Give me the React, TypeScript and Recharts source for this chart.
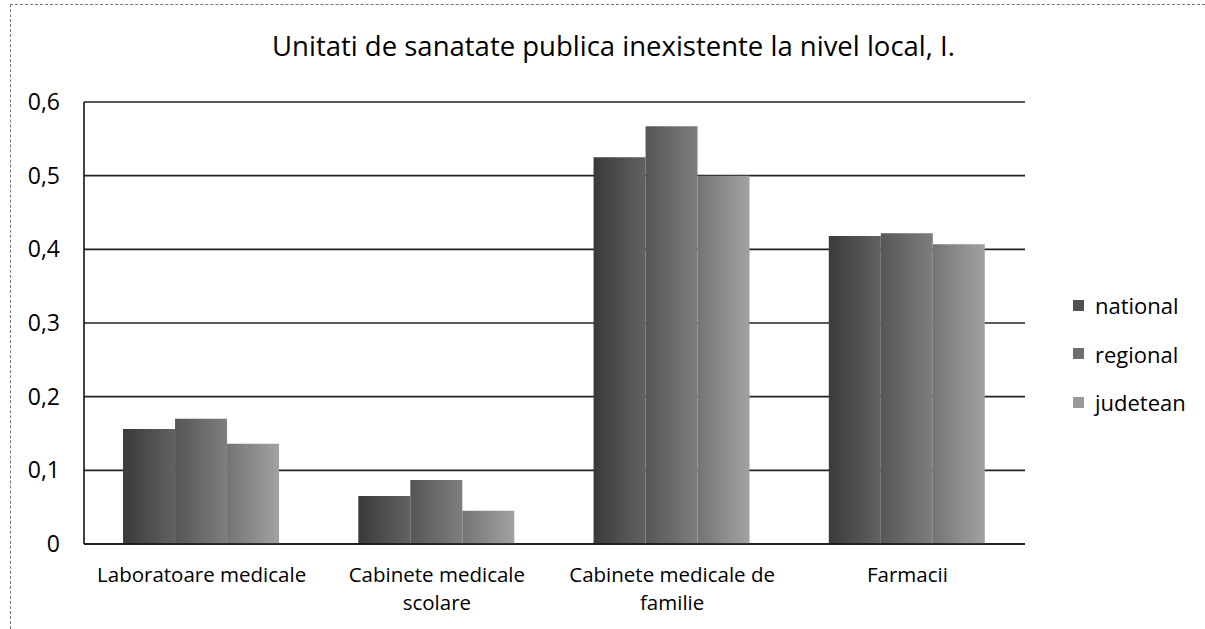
import React from "react";
import { BarChart, Bar, XAxis, YAxis, CartesianGrid } from "recharts";

const categories = [
  "Laboratoare medicale",
  "Cabinete medicale\nscolare",
  "Cabinete medicale de\nfamilie",
  "Farmacii",
];
const national = [0.156, 0.065, 0.525, 0.418];
const regional = [0.17, 0.087, 0.567, 0.422];
const judetean = [0.136, 0.045, 0.5, 0.407];
const yTicks = [0, 0.1, 0.2, 0.3, 0.4, 0.5, 0.6];
const seriesNames = ["national", "regional", "judetean"];

const data = categories.map((c, i) => ({
  name: c,
  national: national[i],
  regional: regional[i],
  judetean: judetean[i],
}));

const FONT = "'Open Sans', Lato, sans-serif";

const XTick = (props: any) => {
  const { x, y, payload } = props;
  const lines = String(payload.value).split("\n");
  return (
    <g transform={`translate(${x},${y})`}>
      {lines.map((l: string, i: number) => (
        <text
          key={i}
          x={0}
          y={30 + i * 28}
          textAnchor="middle"
          fontSize={20.5}
          fontFamily={FONT}
          fill="#000"
        >
          {l}
        </text>
      ))}
    </g>
  );
};

const fills: Record<string, string> = {
  national: "url(#gNat)",
  regional: "url(#gReg)",
  judetean: "url(#gJud)",
};
const legendColors: Record<string, string> = {
  national: "#505050",
  regional: "#6e6e6e",
  judetean: "#999",
};

export default function App() {
  return (
    <div
      style={{
        position: "absolute",
        left: 0,
        top: 0,
        width: 1205,
        height: 629,
        background: "#fff",
        overflow: "hidden",
      }}
    >
      <div
        style={{
          position: "absolute",
          left: 10,
          top: 4,
          width: 1195,
          height: 625,
          borderTop: "1px dashed #777",
          borderLeft: "1px dashed #777",
          boxSizing: "border-box",
        }}
      />
      <div
        style={{
          position: "absolute",
          left: 0,
          width: 1227,
          top: 27,
          textAlign: "center",
          fontFamily: FONT,
          fontSize: 27.5,
          lineHeight: "38px",
          color: "#000",
        }}
      >
        Unitati de sanatate publica inexistente la nivel local, I.
      </div>
      <div
        style={{
          position: "absolute",
          left: 1073,
          top: 281,
          fontFamily: FONT,
          fontSize: 22,
          color: "#000",
        }}
      >
        {seriesNames.map((n) => (
          <div key={n} style={{ display: "flex", alignItems: "center", height: 48.5 }}>
            <span
              style={{
                display: "inline-block",
                width: 11,
                height: 11,
                background: legendColors[n],
                marginRight: 11,
              }}
            />
            <span>{n}</span>
          </div>
        ))}
      </div>
      <BarChart
        width={1205}
        height={629}
        data={data}
        margin={{ top: 102, right: 180, bottom: 55, left: 24 }}
        barCategoryGap="16.6%"
        barGap={0}
        style={{ position: "absolute", left: 0, top: 0 }}
      >
        <defs>
          <linearGradient id="gNat" x1="0" y1="0" x2="1" y2="0">
            <stop offset="0%" stopColor="#3a3a3a" />
            <stop offset="100%" stopColor="#626262" />
          </linearGradient>
          <linearGradient id="gReg" x1="0" y1="0" x2="1" y2="0">
            <stop offset="0%" stopColor="#565656" />
            <stop offset="100%" stopColor="#7e7e7e" />
          </linearGradient>
          <linearGradient id="gJud" x1="0" y1="0" x2="1" y2="0">
            <stop offset="0%" stopColor="#747474" />
            <stop offset="100%" stopColor="#a2a2a2" />
          </linearGradient>
        </defs>
        <CartesianGrid vertical={false} stroke="#222" strokeWidth={1.6} />
        <XAxis
          dataKey="name"
          tick={<XTick />}
          tickLine={false}
          axisLine={{ stroke: "#111", strokeWidth: 1.6 }}
          interval={0}
          height={30}
        />
        <YAxis
          domain={[0, 0.6]}
          ticks={yTicks}
          width={60}
          tickFormatter={(v: number) => (v === 0 ? "0" : v.toFixed(1).replace(".", ","))}
          tick={{ fontSize: 23, fontFamily: FONT, fill: "#000" }}
          tickLine={false}
          tickSize={0}
          tickMargin={24}
          axisLine={{ stroke: "#111", strokeWidth: 1.6 }}
        />
        {seriesNames.map((n) => (
          <Bar key={n} dataKey={n} fill={fills[n]} isAnimationActive={false} />
        ))}
      </BarChart>
    </div>
  );
}
